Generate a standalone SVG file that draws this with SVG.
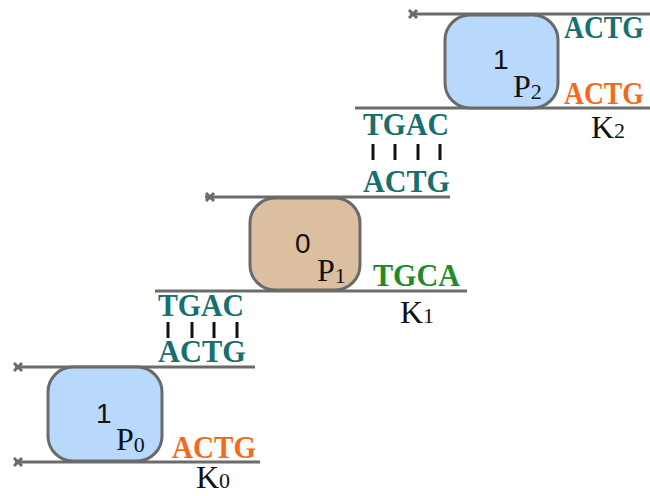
<svg xmlns="http://www.w3.org/2000/svg" width="650" height="496" viewBox="0 0 650 496">
<style>
.ln{stroke:#6b6b6b;stroke-width:3;fill:none}
.x{stroke:#6b6b6b;stroke-width:3;fill:none}
.box{stroke:#6a6a6a;stroke-width:3}
.blue{fill:#b8d9fb}
.tan{fill:#dcbf9e}
.seq{font-family:"Liberation Serif",serif;font-weight:bold;font-size:31px}
.teal{fill:#17706f}
.org{fill:#f26b1d}
.grn{fill:#1e8c2a}
.bar{stroke:#111;stroke-width:3}
.num{font-family:"Liberation Sans",sans-serif;font-size:28px;fill:#111}
.lbl{font-family:"Liberation Serif",serif;font-size:32px;fill:#111}
.sub{font-size:22px}
</style>
<rect width="650" height="496" fill="#fff"/>
<g id="connectors">
<line class="ln" x1="15" y1="367" x2="255" y2="367"/>
<line class="ln" x1="15" y1="462" x2="260" y2="462"/>
<path class="x" d="M14,363 l8,8 M22,363 l-8,8 M14,458 l8,8 M22,458 l-8,8"/>
<line class="ln" x1="205" y1="197" x2="450" y2="197"/>
<line class="ln" x1="155" y1="291" x2="467" y2="291"/>
<path class="x" d="M206,193 l8,8 M214,193 l-8,8"/>
<line class="ln" x1="410" y1="14" x2="650" y2="14"/>
<line class="ln" x1="355" y1="108" x2="650" y2="108"/>
<path class="x" d="M409,10 l8,8 M417,10 l-8,8"/>
</g>
<g id="P0">
<rect class="box blue" x="48" y="367" width="114" height="94" rx="25"/>
<text class="num" x="96" y="423">1</text>
<text class="lbl" x="116" y="450">P<tspan class="sub" dy="2">0</tspan></text>
</g>
<g id="K0">
<text class="seq org" x="172" y="458" textLength="84" lengthAdjust="spacingAndGlyphs">ACTG</text>
<text class="lbl" x="196" y="488">K<tspan class="sub">0</tspan></text>
</g>
<g id="pair0">
<text class="seq teal" x="158" y="316" textLength="86" lengthAdjust="spacingAndGlyphs">TGAC</text>
<path class="bar" d="M168,322 v16 M192,322 v16 M214,322 v16 M237,322 v16"/>
<text class="seq teal" x="158" y="362" textLength="88" lengthAdjust="spacingAndGlyphs">ACTG</text>
</g>
<g id="P1">
<rect class="box tan" x="250" y="198" width="110" height="92" rx="25"/>
<text class="num" x="295" y="253">0</text>
<text class="lbl" x="317" y="281">P<tspan class="sub" dy="2">1</tspan></text>
</g>
<g id="K1">
<text class="seq grn" x="373" y="286" textLength="87" lengthAdjust="spacingAndGlyphs">TGCA</text>
<text class="lbl" x="400" y="323">K<tspan class="sub">1</tspan></text>
</g>
<g id="pair1">
<text class="seq teal" x="363" y="135" textLength="86" lengthAdjust="spacingAndGlyphs">TGAC</text>
<path class="bar" d="M373,144 v16 M395,144 v16 M418,144 v16 M440,144 v16"/>
<text class="seq teal" x="363" y="192" textLength="87" lengthAdjust="spacingAndGlyphs">ACTG</text>
</g>
<g id="P2">
<rect class="box blue" x="445" y="15" width="113" height="93" rx="25"/>
<text class="num" x="493" y="69">1</text>
<text class="lbl" x="513" y="97">P<tspan class="sub" dy="2">2</tspan></text>
</g>
<g id="K2">
<text class="seq teal" transform="translate(564,38) scale(0.89,1)">ACTG</text>
<text class="seq org" transform="translate(564,104) scale(0.89,1)">ACTG</text>
<text class="lbl" x="591" y="138">K<tspan class="sub">2</tspan></text>
</g>
</svg>
